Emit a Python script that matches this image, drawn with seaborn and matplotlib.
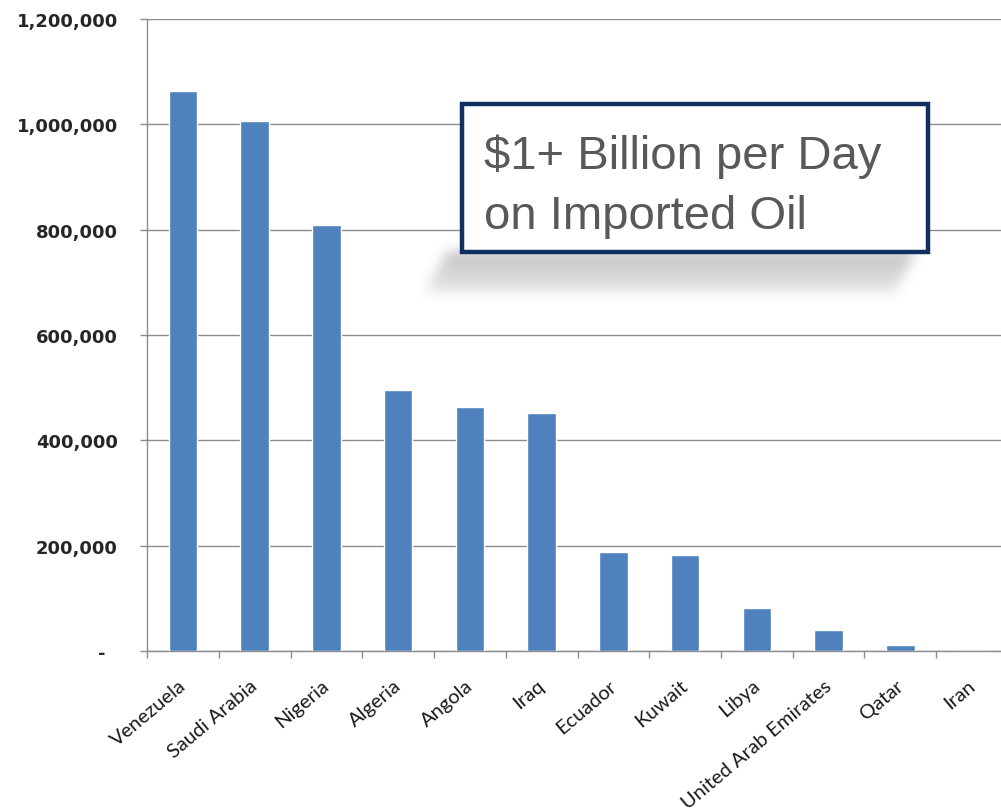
import numpy as np
import matplotlib
matplotlib.use("Agg")
import matplotlib.pyplot as plt
import seaborn as sns
from matplotlib.patches import Rectangle
from matplotlib.transforms import ScaledTranslation

# ---- data ----
countries = ["Venezuela", "Saudi Arabia", "Nigeria", "Algeria", "Angola", "Iraq",
             "Ecuador", "Kuwait", "Libya", "United Arab Emirates", "Qatar", "Iran"]
imports = [1063000, 1006000, 809000, 495000, 463000, 452000,
           188000, 182000, 82000, 40000, 11000, 0]
y_ticks = [0, 200000, 400000, 600000, 800000, 1000000, 1200000]
y_tick_labels = ["-  ", "200,000", "400,000", "600,000", "800,000", "1,000,000", "1,200,000"]
callout_lines = ["$1+ Billion per Day", "on Imported Oil"]

sns.set_theme(style="white")
plt.rcParams["font.family"] = ["DejaVu Sans"]

W, H = 1001, 812
fig = plt.figure(figsize=(W / 100, H / 100), dpi=100)
ax = fig.add_axes([147 / W, 1 - 652 / H, (1008 - 147) / W, 632 / H])

sns.barplot(x=countries, y=imports, color="#4f81bd", width=0.4, saturation=1,
            ax=ax, zorder=3)

ax.set_xlim(-0.5, len(countries) - 0.5)
ax.set_ylim(0, 1200000)
grid_c = "#8c8c8c"
ax.yaxis.grid(True, color=grid_c, lw=1)
ax.xaxis.grid(False)
ax.set_axisbelow(True)
for s in ["top", "right"]:
    ax.spines[s].set_visible(False)
for s in ["left", "bottom"]:
    ax.spines[s].set_color(grid_c)
    ax.spines[s].set_linewidth(1)

ax.set_yticks(y_ticks)
ax.set_yticklabels(y_tick_labels)
ax.tick_params(axis="y", left=True, length=5, width=1, color=grid_c, direction="out",
               pad=16, labelsize=13, labelcolor="#262626")
for lbl in ax.get_yticklabels():
    lbl.set_fontweight("bold")

ax.set_xticks(range(len(countries)))
ax.set_xticks(np.arange(-0.5, len(countries)), minor=True)
ax.set_xticklabels(countries, rotation=40, ha="right", va="baseline",
                   rotation_mode="anchor", fontfamily="Lato", fontsize=14.5, color="#1a1a1a")
ax.tick_params(axis="x", which="major", length=0, pad=26)
ax.tick_params(axis="x", which="minor", bottom=True, length=5, width=1, color=grid_c,
               direction="out")
shift = ScaledTranslation(4 / 100, 0, fig.dpi_scale_trans)
for lbl in ax.get_xticklabels():
    lbl.set_transform(lbl.get_transform() + shift)
ax.set_xlabel("")
ax.set_ylabel("")

# ---- callout shadow (decoration) ----
x0, y0, x1, y1 = 395, 235, 945, 320  # pixel region (top-left origin)
hh, ww = y1 - y0, x1 - x0
yy, xx = np.mgrid[0:hh, 0:ww]
py = yy + y0
px = xx + x0
top_y, bot_y = 252, 292
t = np.clip((py - top_y) / (bot_y - top_y), 0, 1)
left_edge = 447 - 22 * t
right_edge = 915 - 20 * t
mask = ((py >= top_y) & (py <= bot_y) & (px >= left_edge) & (px <= right_edge)).astype(float)
mask *= (0.95 - 0.55 * t)
k = np.exp(-0.5 * (np.arange(-15, 16) / 6.0) ** 2)
k /= k.sum()
mask = np.apply_along_axis(lambda r: np.convolve(r, k, mode="same"), 1, mask)
mask = np.apply_along_axis(lambda c: np.convolve(c, k, mode="same"), 0, mask)
rgba = np.zeros((hh, ww, 4))
rgba[..., :3] = 0.45
rgba[..., 3] = np.clip(mask * 0.45, 0, 1)
fig.figimage(rgba, xo=x0, yo=H - y1, origin="upper", zorder=5)

# ---- callout box ----
bx0, by0, bx1, by1 = 462, 105, 928, 253
fig.patches.append(Rectangle((bx0 / W, 1 - by1 / H), (bx1 - bx0) / W, (by1 - by0) / H,
                             transform=fig.transFigure, facecolor="white",
                             edgecolor="#10305f", linewidth=3.2, zorder=6))
fig.text(484 / W, 1 - 169 / H, callout_lines[0], fontsize=34, color="#595959",
         family="Liberation Sans", va="baseline", ha="left", zorder=7)
fig.text(484 / W, 1 - 229 / H, callout_lines[1], fontsize=34, color="#595959",
         family="Liberation Sans", va="baseline", ha="left", zorder=7)

fig.savefig("out.png", dpi=100, facecolor="white")
